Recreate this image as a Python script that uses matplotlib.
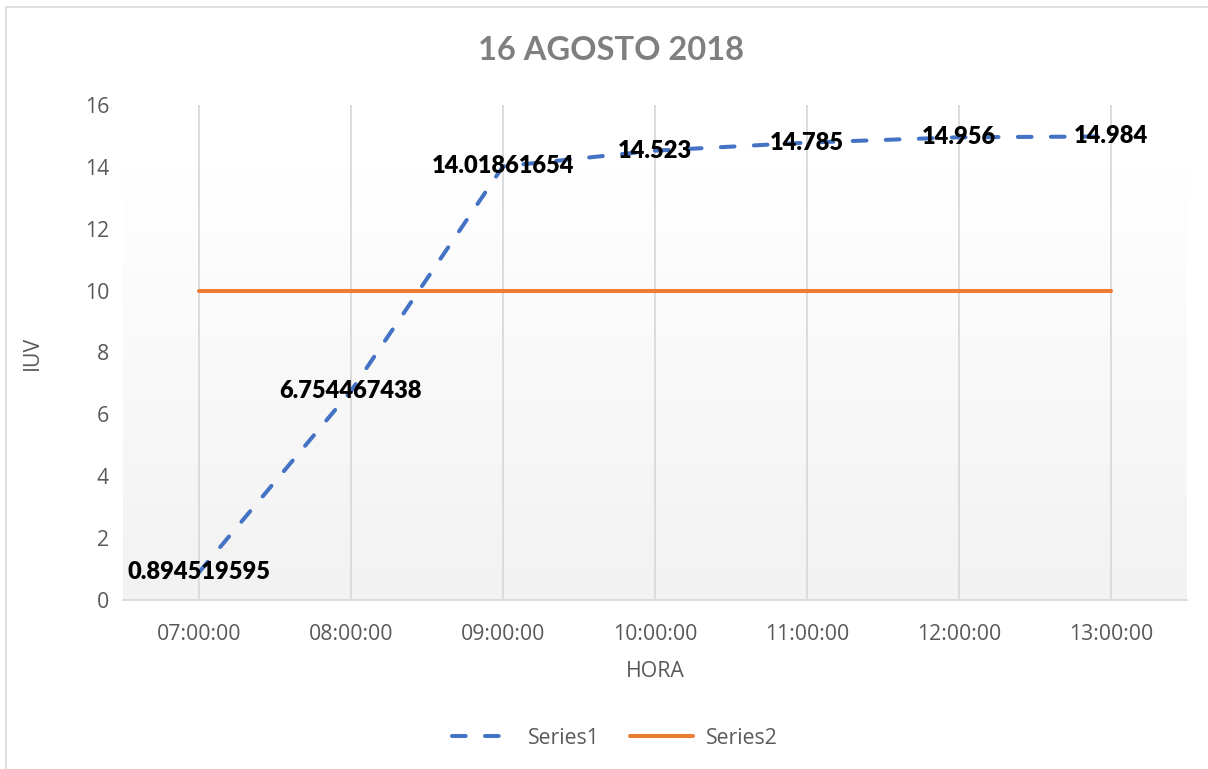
import matplotlib
matplotlib.use("Agg")
import matplotlib.pyplot as plt
import numpy as np
from matplotlib.patches import Rectangle
from matplotlib.lines import Line2D
from matplotlib.colors import LinearSegmentedColormap

categories = ["07:00:00", "08:00:00", "09:00:00", "10:00:00", "11:00:00", "12:00:00", "13:00:00"]
series1 = [0.894519595, 6.754467438, 14.01861654, 14.523, 14.785, 14.956, 14.984]
series1_labels = ["0.894519595", "6.754467438", "14.01861654", "14.523", "14.785", "14.956", "14.984"]
series2 = [10, 10, 10, 10, 10, 10, 10]
yticks = [0, 2, 4, 6, 8, 10, 12, 14, 16]

plt.rcParams['font.family'] = ['Open Sans', 'DejaVu Sans']
LABEL_FONT = ['Lato', 'DejaVu Sans']
FS = 15.3

W, H = 1208, 769
fig = plt.figure(figsize=(W / 100, H / 100), dpi=100)
fig.patch.set_facecolor("white")

# outer border
fig.add_artist(Rectangle((6 / W, -0.1), 1.2, (H - 7) / H + 0.1, transform=fig.transFigure,
                         fill=False, edgecolor="#d9d9d9", linewidth=1.2))

ax = fig.add_axes([123 / W, (H - 600) / H, (1187 - 123) / W, (600 - 105) / H])
ax.set_facecolor("white")
x = np.arange(len(categories))
ax.set_xlim(-0.5, len(categories) - 0.5)
ax.set_ylim(0, 16)

# gradient background
grad = np.linspace(0, 1, 256).reshape(-1, 1)
cmap = LinearSegmentedColormap.from_list("g", ["#f2f2f2", "#ffffff"])
ax.imshow(grad, extent=(-0.5, len(categories) - 0.5, 0, 13.95), origin="lower",
          cmap=cmap, aspect="auto", zorder=0)

for xi in x:
    ax.axvline(xi, color="#d9d9d9", linewidth=1.3, zorder=1)

for s in ["top", "right", "left"]:
    ax.spines[s].set_visible(False)
ax.spines["bottom"].set_color("#d9d9d9")
ax.spines["bottom"].set_linewidth(1.3)

ax.plot(x, series2, color="#ED7D31", linewidth=2.9, solid_capstyle="round", zorder=3, label="Series2")
l1, = ax.plot(x, series1, color="#4472C4", linewidth=2.9, dash_capstyle="round", zorder=4, label="Series1")
l1.set_dashes((3.4, 4.8))

for xi, v, t in zip(x, series1, series1_labels):
    ax.text(xi, v, t, ha="center", va="center", fontsize=17, fontweight="heavy",
            family=LABEL_FONT, color="black", zorder=5)

ax.set_xticks(x)
ax.set_xticklabels(categories)
ax.set_yticks(yticks)
ax.set_yticklabels([str(t) for t in yticks])
ax.tick_params(axis="both", length=0, colors="#595959", labelsize=FS)
ax.tick_params(axis="x", pad=17)
ax.tick_params(axis="y", pad=10)

ax.set_xlabel("HORA", fontsize=FS, color="#595959", labelpad=12)
ax.set_ylabel("IUV", fontsize=FS, color="#595959", labelpad=30)

fig.text(611 / W, 1 - 50 / H, "16 AGOSTO 2018", ha="center", va="center",
         fontsize=23.5, fontweight="bold", family=LABEL_FONT, color="#7f7f7f")

h1 = Line2D([], [], color="#4472C4", linewidth=2.9, dash_capstyle="round")
h1.set_dashes((3.4, 4.8))
h2 = Line2D([], [], color="#ED7D31", linewidth=2.9, solid_capstyle="round")
fig.legend([h1, h2], ["Series1", "Series2"], loc="center", bbox_to_anchor=(615 / W, 1 - 738 / H),
           ncol=2, frameon=False, fontsize=FS, labelcolor="#595959", handlelength=2.95,
           columnspacing=1.4, handletextpad=0.62)

fig.savefig("out.png", dpi=100, facecolor="white")
